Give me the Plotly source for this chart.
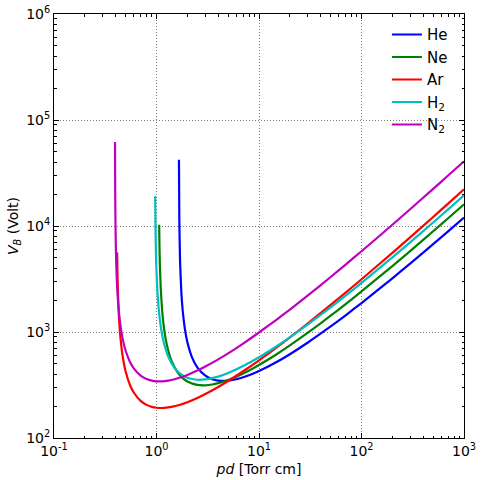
import plotly.graph_objects as go

# Breakdown voltage V_B (Volt), versus pd (Torr cm)
he_pd = [1.656, 1.67, 1.7, 1.75, 1.8, 1.9, 2.0, 2.2, 2.5, 3, 3.5, 4, 4.5, 5, 6, 8, 10, 15, 20, 30, 50, 70, 100, 200, 300, 500, 700, 1000]
he_v = [42170, 11238, 4476, 2314, 1604, 1041.5, 803, 590, 464, 386.8, 358.7, 348.1, 345.6, 347.5, 358.0, 390.4, 427.5, 523.4, 617.4, 796.6, 1128.8, 1438.4, 1876.3, 3210.4, 4440.3, 6738.8, 8909.5, 12019]

ne_pd = [1.062, 1.07, 1.08, 1.1, 1.13, 1.17, 1.22, 1.3, 1.4, 1.6, 1.8, 2, 2.5, 3, 3.5, 4, 5, 6, 8, 10, 15, 20, 30, 50, 70, 100, 200, 300, 500, 700, 1000]
ne_v = [10280, 6238, 4217, 2601, 1692.8, 1189.3, 894.3, 669.6, 535.3, 417.8, 367.3, 341.4, 317.0, 314.3, 319.8, 329.0, 352.4, 378.7, 433.4, 488.1, 620.5, 746.5, 984.4, 1423.7, 1833.5, 2414.2, 4190.9, 5835.6, 8920.1, 11841.8, 16037]

ar_pd = [0.413, 0.415, 0.42, 0.43, 0.44, 0.46, 0.48, 0.5, 0.55, 0.6, 0.7, 0.8, 0.9, 1.0, 1.1, 1.2, 1.4, 1.7, 2, 2.5, 3, 4, 5, 7, 10, 15, 20, 30, 50, 70, 100, 200, 300, 500, 700, 1000]
ar_v = [5639, 4102, 2464.9, 1403.3, 1001.6, 660.7, 509.4, 424.4, 318.1, 268.8, 224.1, 205.4, 196.7, 192.9, 191.8, 192.3, 196.4, 206.0, 217.6, 238.5, 260.1, 303.1, 345.1, 426.0, 540.7, 719.8, 888.8, 1207.5, 1798.7, 2353.5, 3144.2, 5584.9, 7862.7, 12163.3, 16259.3, 22166]

h2_pd = [0.971, 0.975, 0.98, 0.99, 1.0, 1.02, 1.05, 1.1, 1.15, 1.2, 1.3, 1.5, 1.7, 2, 2.5, 3, 4, 5, 7, 10, 15, 20, 30, 50, 70, 100, 200, 300, 500, 700, 1000]
h2_v = [19221, 12041, 8245, 5101, 3724, 2456.6, 1666.9, 1128.8, 882.0, 741.2, 587.7, 458.4, 404.9, 370.2, 354.3, 356.9, 379.6, 410.2, 476.8, 577.2, 737.9, 890.5, 1178.2, 1709.6, 2205.5, 2908.6, 5061.3, 7055.7, 10798.5, 14345.6, 19441]

n2_pd = [0.394, 0.395, 0.397, 0.4, 0.405, 0.41, 0.42, 0.43, 0.45, 0.47, 0.5, 0.55, 0.6, 0.7, 0.8, 0.9, 1.0, 1.1, 1.2, 1.4, 1.7, 2, 2.5, 3, 4, 5, 7, 10, 15, 20, 30, 50, 70, 100, 200, 300, 500, 700, 1000]
n2_v = [62047, 27677, 13209, 7465, 4383, 3135.8, 2038.3, 1538, 1067.2, 843.0, 665.9, 524.4, 454.3, 388.4, 360.4, 347.8, 342.8, 342.2, 344.2, 352.8, 371.6, 393.5, 432.5, 472.4, 551.8, 629.2, 777.9, 988.9, 1318.1, 1628.8, 2214.7, 3302.1, 4322.7, 5777.6, 10270.0, 14463.9, 22383.7, 29928.4, 40810]

gas_names = ["He", "Ne", "Ar", "H<sub>2</sub>", "N<sub>2</sub>"]
gas_colors = ["#0000ff", "#008000", "#ff0000", "#00bfbf", "#bf00bf"]

x_tick_vals = [0.1, 1, 10, 100, 1000]
x_tick_text = ["10<sup>-1</sup>", "10<sup>0</sup>", "10<sup>1</sup>", "10<sup>2</sup>", "10<sup>3</sup>"]
y_tick_vals = [100, 1000, 10000, 100000, 1000000]
y_tick_text = ["10<sup>2</sup>", "10<sup>3</sup>", "10<sup>4</sup>", "10<sup>5</sup>", "10<sup>6</sup>"]

series = [(he_pd, he_v), (ne_pd, ne_v), (ar_pd, ar_v), (h2_pd, h2_v), (n2_pd, n2_v)]

fig = go.Figure()
for (xs, ys), name, col in zip(series, gas_names, gas_colors):
    fig.add_trace(go.Scatter(x=xs, y=ys, mode="lines", name=name,
                             line=dict(color=col, width=2.2, shape="spline", smoothing=0.6)))

axis_common = dict(
    type="log", showline=True, linecolor="black", linewidth=1, mirror="allticks",
    ticks="inside", ticklen=5, tickcolor="black", tickwidth=1,
    showgrid=True, gridcolor="#808080", griddash="1px,2px", gridwidth=1,
    zeroline=False, automargin=False, ticklabeloverflow="allow",
    minor=dict(ticks="inside", ticklen=2.5, tickcolor="black", dtick="D1", showgrid=False),
    tickfont=dict(family="DejaVu Sans", size=14, color="black"),
)

fig.update_xaxes(range=[-1, 3], tickmode="array", tickvals=x_tick_vals, ticktext=x_tick_text,
                 title=dict(text="<i>pd</i> [Torr cm]", font=dict(family="DejaVu Sans", size=14, color="black"), standoff=6),
                 **axis_common)
fig.update_yaxes(range=[2, 6], tickmode="array", tickvals=y_tick_vals, ticktext=y_tick_text,
                 title=dict(text="<i>V</i><sub><i>B</i></sub> (Volt)", font=dict(family="DejaVu Sans", size=14, color="black"), standoff=4),
                 **axis_common)

fig.update_layout(
    width=483, height=480,
    margin=dict(l=54, r=19, t=14, b=42),
    paper_bgcolor="white", plot_bgcolor="white",
    font=dict(family="DejaVu Sans", color="black"),
    legend=dict(x=0.812, y=0.99, xanchor="left", yanchor="top", bgcolor="rgba(0,0,0,0)",
                font=dict(family="DejaVu Sans", size=15, color="black"), tracegroupgap=0),
)

# remove the page's default body margin so the figure fills the window exactly
fig.write_html("out.html", config={"displayModeBar": False},
               post_script="document.body.style.margin='0px';")
